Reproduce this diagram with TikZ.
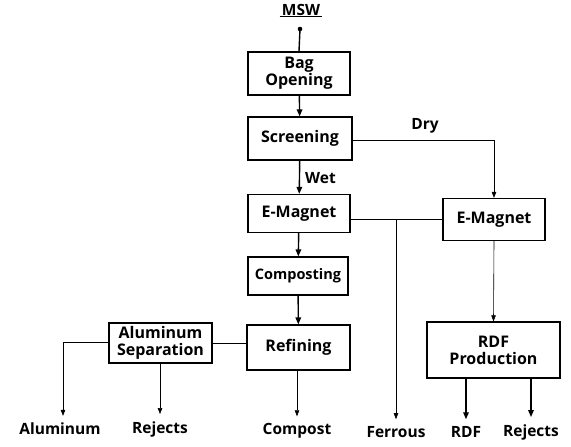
\documentclass[tikz,border=0pt]{standalone}
\usepackage{fontspec}
\setmainfont{Open Sans}
\usetikzlibrary{arrows.meta,calc}
\begin{document}
\begin{tikzpicture}[x=1pt,y=-1pt,
  box/.style={draw,line width=1.2pt,align=center,inner sep=1pt,font=\fontsize{16}{17}\selectfont\bfseries},
  lbl/.style={font=\fontsize{15.5}{17}\selectfont\bfseries,inner sep=2pt},
  mainarrow/.style={line width=1.4pt,-{Triangle[length=7pt,width=5.5pt]}},
  thinarrow/.style={line width=0.6pt,-{Triangle[length=6pt,width=4.5pt]}},
  thinline/.style={line width=1pt}]
\useasboundingbox (0,0) rectangle (571,447);
% boxes
\node[box,minimum width=102,minimum height=43] (bag) at (299,73.5) {Bag\\Opening};
\node[box,minimum width=104,minimum height=43] (scr) at (300,138.5) {Screening};
\node[box,minimum width=102,minimum height=38] (em1) at (299,213.5) {E-Magnet};
\node[box,minimum width=100,minimum height=38,font=\fontsize{14.5}{16}\selectfont\bfseries] (comp) at (298,276) {Composting};
\node[box,minimum width=103,minimum height=45] (ref) at (298.5,347.5) {Refining};
\node[box,minimum width=103,minimum height=40] (alsep) at (160.5,343) {Aluminum\\Separation};
\node[box,minimum width=102,minimum height=42] (em2) at (494,219.5) {E-Magnet};
\node[box,minimum width=133,minimum height=56] (rdf) at (493.5,350) {RDF\\Production};
% top label
\node[lbl] (msw) at (301,10) {MSW};
\draw[line width=1pt] ($(msw.south west)+(0,-1)$) -- ($(msw.south east)+(0,-1)$);
\coordinate (dot) at (300,29);
\fill (dot) circle (2.3);
\draw[line width=1.4pt] (dot) -- (bag.north);
% bottom labels
\node[lbl] (al) at (60,429) {Aluminum};
\node[lbl] (rej1) at (160,429) {Rejects};
\node[lbl] (compost) at (297,431) {Compost};
\node[lbl] (fer) at (396,432) {Ferrous};
\node[lbl] (rdfo) at (466,432) {RDF};
\node[lbl] (rej2) at (531,432) {Rejects};
% main flow
\draw[mainarrow] (bag) -- (scr);
\draw[mainarrow] (scr) -- node[right,lbl,xshift=3pt,yshift=-1pt] {Wet} (em1);
\draw[mainarrow] (em1) -- (comp);
\draw[mainarrow] (comp) -- (ref);
% dry branch
\draw[thinarrow] ($(scr.east)+(0,1.5)$) -| (em2.north);
\node[lbl] (dry) at (425,126) {Dry};
\draw[thinline] (em1.east |- em2.west) -- (em2.west);
\coordinate (fbr) at (397,0 |- em2.west);
\draw[thinarrow] (fbr -| fer.north) -- ($(fer.north)+(0,-5)$);
\draw[thinarrow] (em2.south) -- (rdf.north);
\draw[mainarrow] (rdf.south -| rdfo.north) -- ($(rdfo.north)+(0,-5)$);
\draw[mainarrow] (rdf.south -| rej2.north) -- ($(rej2.north)+(0,-5)$);
% left branch
\draw[thinline] (ref.west |- alsep.east) -- (alsep.east);
\draw[thinarrow] ($(alsep.west)+(0,-1)$) -| ($(al.north)+(3,-5)$);
\draw[thinarrow] (alsep.south -| rej1.north) -- ($(rej1.north)+(0,-5)$);
\draw[thinarrow] (ref.south -| compost.north) -- ($(compost.north)+(0,-5)$);
\end{tikzpicture}
\end{document}
